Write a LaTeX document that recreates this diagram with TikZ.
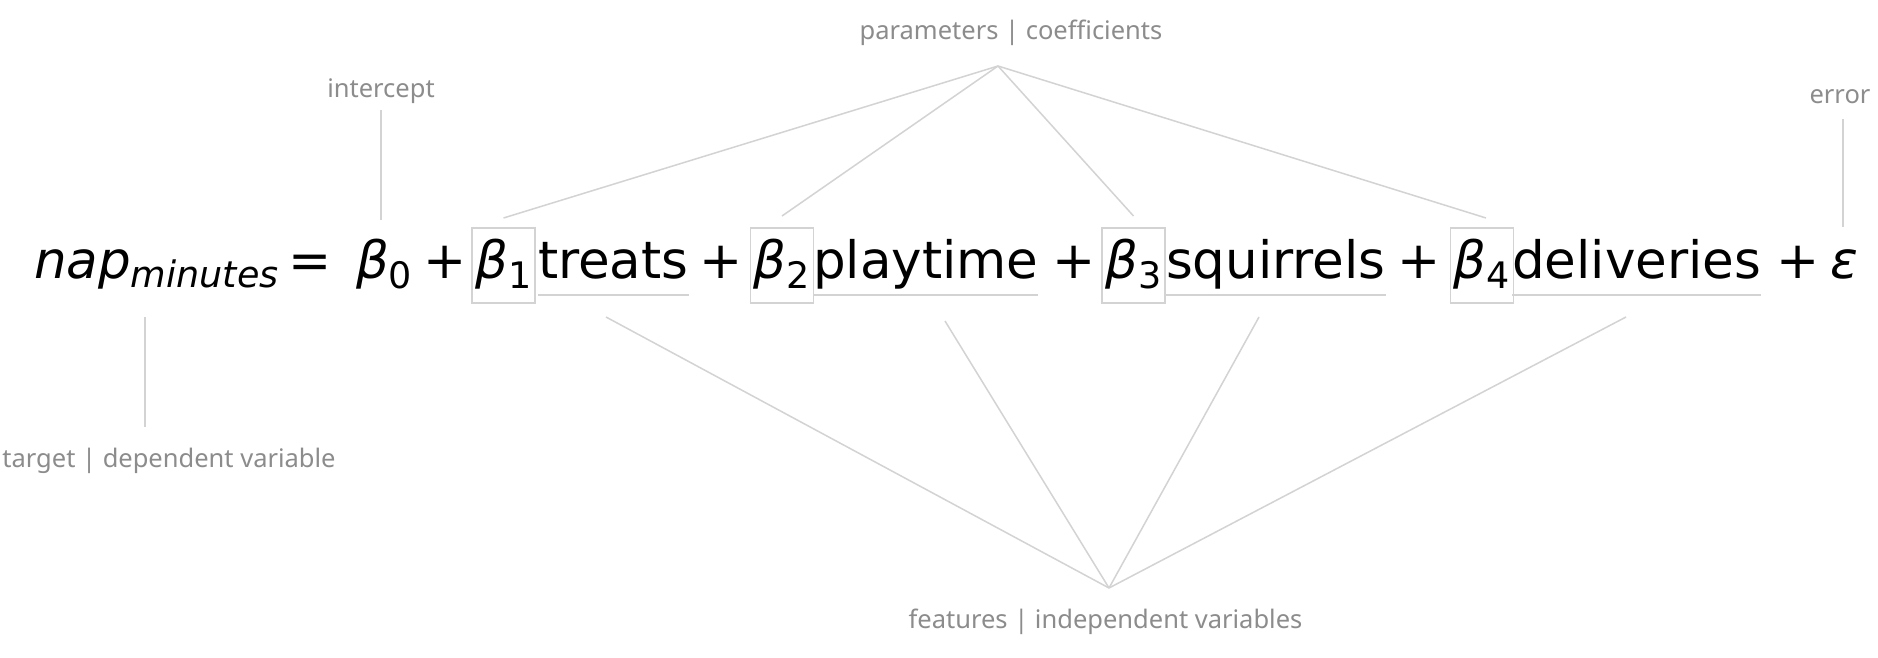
\documentclass[tikz,border=0pt]{standalone}
\usepackage{fontspec}
\newfontfamily\eqfont{DejaVu Sans}
\newfontfamily\lblfont{Noto Sans}
\definecolor{lblgray}{HTML}{8C8C8C}
\definecolor{linegray}{HTML}{D3D3D3}
\newcommand{\eqsz}{\fontsize{51.5}{60}\selectfont}
\newcommand{\subsz}{\fontsize{36.5}{40}\selectfont}
\newcommand{\bsub}[1]{{\itshape β}\raisebox{-10pt}{\subsz #1}}
\begin{document}
\begin{tikzpicture}[x=1pt,y=-1pt,
  eq/.style={inner sep=0pt, outer sep=0pt, font=\eqfont\eqsz},
  lbl/.style={inner sep=0pt, font=\lblfont\fontsize{25.5}{30}\selectfont, text=lblgray},
  conn/.style={draw=linegray, line width=1.5pt},
  betabox/.style={eq, draw=linegray, line width=1.5pt, minimum width=63pt, text height=50pt, text depth=25pt}]
\useasboundingbox[fill=white] (0,0) rectangle (1878,658);
% equation
\node[eq, anchor=base west] (nap) at (34,278) {\itshape nap};
\node[eq, anchor=base west, font=\eqfont\subsz\itshape] (minutes) at ([yshift=-9pt]nap.base east) {minutes};
\node[eq, anchor=base] (eqsign) at (310.5,278) {=};
\node[eq, anchor=base west] (b0) at (356,278) {\bsub{0}};
\node[eq, anchor=base] (p0) at (445,278) {+};
\node[betabox, anchor=base] (b1) at (503.5,278) {\bsub{1}};
\node[eq, anchor=base west] (w1) at (538,278) {treats};
\node[eq, anchor=base] (p1) at (721.5,278) {+};
\node[betabox, anchor=base] (b2) at (782,278) {\bsub{2}};
\node[eq, anchor=base west] (w2) at (813,278) {playtime};
\node[eq, anchor=base] (p2) at (1074,278) {+};
\node[betabox, anchor=base] (b3) at (1133.5,278) {\bsub{3}};
\node[eq, anchor=base west] (w3) at (1166,278) {squirrels};
\node[eq, anchor=base] (p3) at (1419.5,278) {+};
\node[betabox, anchor=base] (b4) at (1482,278) {\bsub{4}};
\node[eq, anchor=base west] (w4) at (1512,278) {deliveries};
\node[eq, anchor=base] (p4) at (1798.5,278) {+};
\node[eq, anchor=base] (eps) at (1844,278) {\itshape ε};
% underlines
\coordinate (ul) at (0,295);
\draw[conn] (w1.west |- ul) -- (w1.east |- ul);
\draw[conn] (w2.west |- ul) -- (w2.east |- ul);
\draw[conn] (w3.west |- ul) -- (w3.east |- ul);
\draw[conn] (w4.west |- ul) -- (w4.east |- ul);
% labels
\node[lbl, anchor=base] (params) at (1011,40) {parameters | coefficients};
\node[lbl, anchor=base] (intercept) at (381,98) {intercept};
\node[lbl, anchor=base] (errlbl) at (1840,103) {error};
\node[lbl, anchor=base] (target) at (169,467) {target | dependent variable};
\node[lbl, anchor=base] (features) at (1105.5,628) {features | independent variables};
% parameter connectors
\coordinate (papex) at (998,66);
\draw[conn] (papex) -- ([yshift=10pt]b1.north);
\draw[conn] (papex) -- ([yshift=12pt]b2.north);
\draw[conn] (papex) -- ([yshift=12pt]b3.north);
\draw[conn] (papex) -- ([xshift=4pt,yshift=10pt]b4.north);
% feature connectors
\coordinate (fapex) at (1109,588);
\coordinate (f1) at (606,317);
\coordinate (f2) at (945,321);
\coordinate (f3) at (1259,317);
\coordinate (f4) at (1626,317);
\draw[conn] (fapex) -- (f1);
\draw[conn] (fapex) -- (f2);
\draw[conn] (fapex) -- (f3);
\draw[conn] (fapex) -- (f4);
% single connectors
\coordinate (i1) at (381,220);
\draw[conn] (intercept.base) ++(0,12) -- (i1);
\coordinate (e1) at (1843,227);
\draw[conn] (errlbl.base) ++(3,16) -- (e1);
\coordinate (t1) at (145,317);
\draw[conn] (t1) -- ++(0,110);
\end{tikzpicture}
\end{document}
